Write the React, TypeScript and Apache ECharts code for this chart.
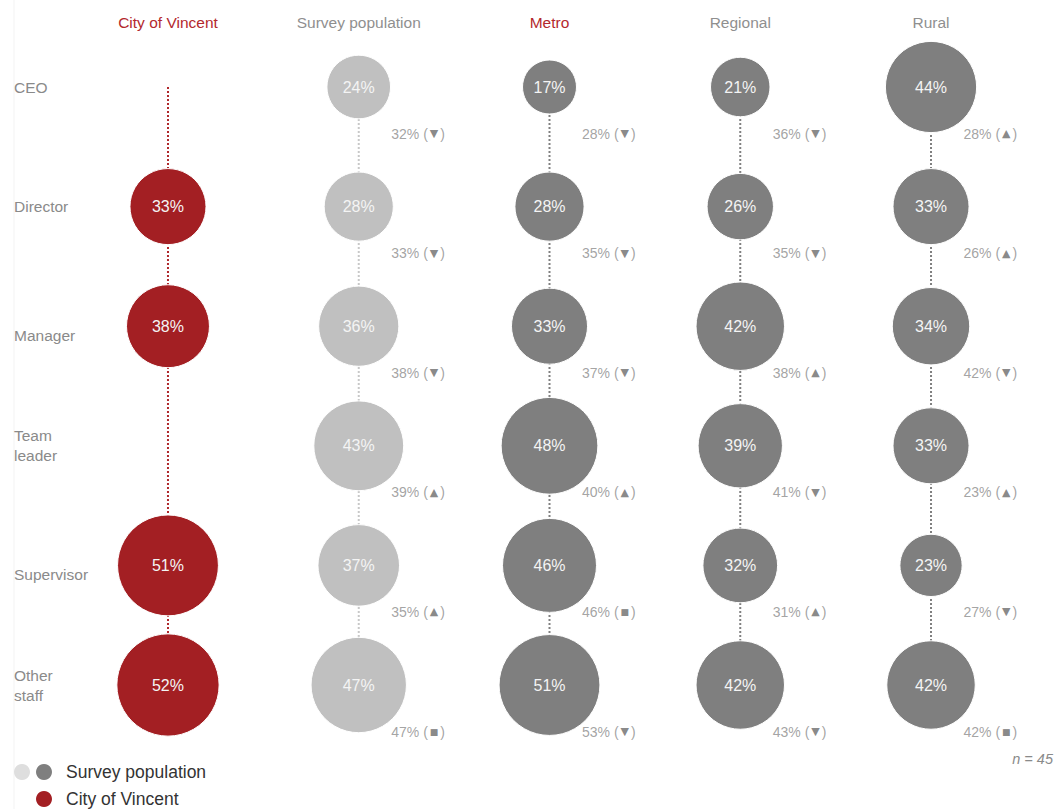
import React, { useEffect, useRef } from "react";
import * as echarts from "echarts";

const columns = ["City of Vincent", "Survey population", "Metro", "Regional", "Rural"];
const rows = ["CEO", "Director", "Manager", "Team\nleader", "Supervisor", "Other\nstaff"];

const cityValues: (number | null)[] = [null, 33, 38, null, 51, 52];
const surveyValues = [24, 28, 36, 43, 37, 47];
const metroValues = [17, 28, 33, 48, 46, 51];
const regionalValues = [21, 26, 42, 39, 32, 42];
const ruralValues = [44, 33, 34, 33, 23, 42];

const surveyNotes = ["32% (▼)", "33% (▼)", "38% (▼)", "39% (▲)", "35% (▲)", "47% (■)"];
const metroNotes = ["28% (▼)", "35% (▼)", "37% (▼)", "40% (▲)", "46% (■)", "53% (▼)"];
const regionalNotes = ["36% (▼)", "35% (▼)", "38% (▲)", "41% (▼)", "31% (▲)", "43% (▼)"];
const ruralNotes = ["28% (▲)", "26% (▲)", "42% (▼)", "23% (▲)", "27% (▼)", "42% (■)"];

const RED = "#a31f23";
const RED_TEXT = "#b3282d";
const LIGHT = "#c0c0c0";
const DARK = "#7f7f7f";
const FONT = "'Liberation Sans', Arial, sans-serif";

export default function App() {
  const ref = useRef<HTMLDivElement>(null);
  useEffect(() => {
    document.body.style.margin = "0";
    const chart = echarts.init(ref.current!, undefined, { renderer: "svg" });

    const colDefs = [
      { values: cityValues, color: RED, line: "#b0282c", notes: null as string[] | null },
      { values: surveyValues, color: LIGHT, line: "#c8c8c8", notes: surveyNotes },
      { values: metroValues, color: DARK, line: "#808080", notes: metroNotes },
      { values: regionalValues, color: DARK, line: "#808080", notes: regionalNotes },
      { values: ruralValues, color: DARK, line: "#808080", notes: ruralNotes },
    ];

    const series: any[] = [];
    colDefs.forEach((c, ci) => {
      series.push({
        type: "line",
        z: 1,
        symbol: "none",
        silent: true,
        data: [
          [ci, 0],
          [ci, rows.length - 1],
        ],
        lineStyle: { color: c.line, width: 2, type: [2, 2] },
      });
      series.push({
        type: "scatter",
        z: 3,
        data: c.values
          .map((v, ri) => (v == null ? null : [ci, ri, v]))
          .filter((d) => d != null),
        symbolSize: (val: number[]) => 30.5 + 1.38 * val[2],
        itemStyle: { color: c.color, opacity: 1, borderColor: "#ffffff", borderWidth: 1 },
        label: {
          show: true,
          position: "inside",
          formatter: (p: any) => p.value[2] + "%",
          color: "#f4f4f4",
          fontSize: 16,
          fontFamily: FONT,
        },
      });
      if (c.notes) {
        series.push({
          type: "scatter",
          z: 4,
          data: c.notes.map((n, ri) => ({ value: [ci, ri], note: n })),
          symbolSize: 1,
          itemStyle: { color: "rgba(0,0,0,0)" },
          label: {
            show: true,
            position: [33, 47],
            align: "left",
            verticalAlign: "middle",
            formatter: (p: any) => {
              const note: string = p.data.note;
              const m = note.match(/^(.*\()(.)(\))$/);
              if (!m) return note;
              const key = m[2] === "■" ? "q" : "s";
              return `${m[1]}{${key}|${m[2]}}${m[3]}`;
            },
            color: "#8c8c8c",
            fontSize: 14,
            fontFamily: FONT,
            rich: {
              s: { color: "#6a6a6a", fontSize: 11, fontFamily: "'DejaVu Sans', sans-serif", padding: [0, 2, 0, 2] },
              q: { color: "#6a6a6a", fontSize: 9, fontFamily: "'DejaVu Sans', sans-serif", padding: [0, 2, 0, 2] },
            },
          },
        });
      }
    });

    chart.setOption({
      animation: false,
      textStyle: { fontFamily: FONT },
      grid: { left: 72.6, right: 29.6, top: 27.2, bottom: 64.2 },
      xAxis: {
        type: "category",
        position: "top",
        data: columns,
        axisLine: { show: false },
        axisTick: { show: false },
        splitLine: { show: false },
        axisLabel: {
          interval: 0,
          hideOverlap: false,
          margin: 5,
          verticalAlign: "middle",
          fontSize: 15.5,
          fontFamily: FONT,
          formatter: (v: string, i: number) => (i === 0 || i === 2 ? `{r|${v}}` : `{g|${v}}`),
          rich: {
            r: { color: RED_TEXT, fontSize: 15.5, fontFamily: FONT },
            g: { color: "#8f8f8f", fontSize: 15.5, fontFamily: FONT },
          },
        },
      },
      yAxis: {
        type: "category",
        inverse: true,
        data: rows,
        axisLine: { show: false },
        axisTick: { show: false },
        splitLine: { show: false },
        axisLabel: {
          interval: 0,
          hideOverlap: false,
          align: "left",
          margin: 58.6,
          color: "#8a8a8a",
          fontSize: 15.5,
          lineHeight: 20,
          fontFamily: FONT,
          formatter: (v: string) =>
            v === "Manager" || v === "Supervisor" ? `{d|${v}}` : v,
          rich: {
            d: { color: "#8a8a8a", fontSize: 15.5, fontFamily: FONT, padding: [19, 0, 0, 0] },
          },
        },
      },
      graphic: [
        { type: "line", shape: { x1: 14, y1: 0, x2: 14, y2: 809 }, style: { stroke: "#f3f3f3", lineWidth: 1 }, silent: true },
        { type: "circle", shape: { cx: 22, cy: 772, r: 8 }, style: { fill: "#dedede" } },
        { type: "circle", shape: { cx: 44, cy: 772, r: 8 }, style: { fill: DARK } },
        { type: "circle", shape: { cx: 44, cy: 799, r: 8 }, style: { fill: RED } },
        {
          type: "text",
          x: 66,
          y: 772,
          style: { text: "Survey population", fill: "#333", fontSize: 17.5, fontFamily: FONT, verticalAlign: "middle", align: "left" },
        },
        {
          type: "text",
          x: 66,
          y: 799,
          style: { text: "City of Vincent", fill: "#333", fontSize: 17.5, fontFamily: FONT, verticalAlign: "middle", align: "left" },
        },
        {
          type: "text",
          x: 1053,
          y: 759,
          style: { text: "n = 45", fill: "#8a8a8a", fontSize: 14.5, fontStyle: "italic", fontFamily: FONT, verticalAlign: "middle", align: "right" },
        },
      ],
      series,
    });
    return () => chart.dispose();
  }, []);
  return <div ref={ref} style={{ width: 1056, height: 809 }} />;
}
